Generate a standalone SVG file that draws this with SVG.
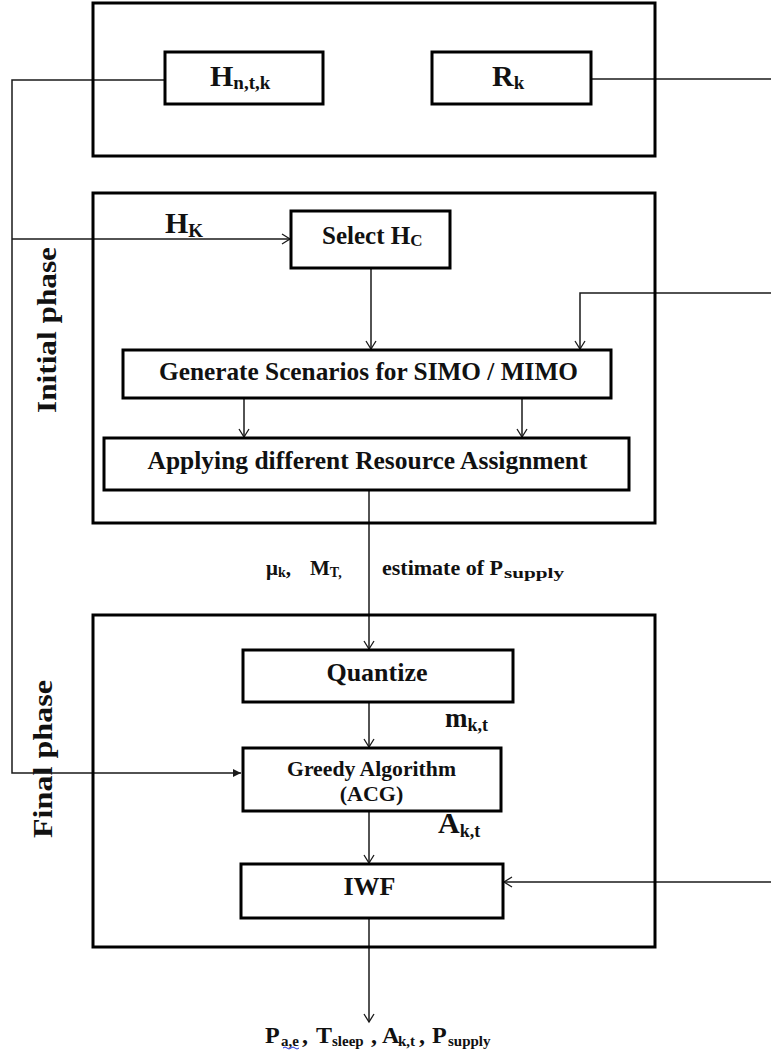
<svg xmlns="http://www.w3.org/2000/svg" width="771" height="1054" viewBox="0 0 771 1054">
<style>
.frame{fill:none;stroke:#000;stroke-width:3}
.box{fill:#fff;stroke:#000;stroke-width:3}
.ln{fill:none;stroke:#1a1a1a;stroke-width:1.5}
.t{font-family:"Liberation Serif","Times New Roman",serif;font-weight:bold;fill:#111}
</style>
<defs>
<marker id="open" markerUnits="userSpaceOnUse" markerWidth="12" markerHeight="12" refX="9" refY="6" orient="auto">
<path d="M1,1 L9,6 L1,11" fill="none" stroke="#1a1a1a" stroke-width="1.3"/>
</marker>
<marker id="solid" markerUnits="userSpaceOnUse" markerWidth="10" markerHeight="10" refX="8" refY="5" orient="auto">
<path d="M0,1 L8,5 L0,9 Z" fill="#1a1a1a"/>
</marker>
</defs>
<rect width="771" height="1054" fill="#fff"/>

<g id="phase-labels">
<text class="t" font-size="27" text-anchor="middle" textLength="166" lengthAdjust="spacingAndGlyphs" transform="translate(56,330) rotate(-90)">Initial phase</text>
<text class="t" font-size="27" text-anchor="middle" textLength="158" lengthAdjust="spacingAndGlyphs" transform="translate(52,759) rotate(-90)">Final phase</text>
</g>

<g id="connectors">
<polyline class="ln" points="165,80 12,80 12,773 241,773" marker-end="url(#solid)"/>
<line class="ln" x1="12" y1="239" x2="290" y2="239" marker-end="url(#open)"/>
<line class="ln" x1="591" y1="79" x2="771" y2="79"/>
<polyline class="ln" points="771,293 580,293 580,349" marker-end="url(#open)"/>
<line class="ln" x1="371" y1="268" x2="371" y2="349" marker-end="url(#open)"/>
<line class="ln" x1="244" y1="398" x2="244" y2="437" marker-end="url(#open)"/>
<line class="ln" x1="522" y1="398" x2="522" y2="437" marker-end="url(#open)"/>
<line class="ln" x1="369" y1="490" x2="369" y2="649" marker-end="url(#open)"/>
<line class="ln" x1="369" y1="702" x2="369" y2="747" marker-end="url(#open)"/>
<line class="ln" x1="369" y1="811" x2="369" y2="863" marker-end="url(#open)"/>
<line class="ln" x1="771" y1="882" x2="504" y2="882" marker-end="url(#open)"/>
<line class="ln" x1="369" y1="918" x2="369" y2="1022" marker-end="url(#open)"/>
</g>

<g id="input-frame">
<rect class="frame" x="93" y="3" width="562" height="153"/>
</g>
<g id="initial-frame">
<rect class="frame" x="93" y="193" width="562" height="330"/>
</g>
<g id="final-frame">
<rect class="frame" x="93" y="615" width="562" height="332"/>
</g>

<g id="node-H">
<rect class="box" x="165" y="52" width="158" height="52"/>
<text class="t" x="210" y="86" font-size="30">H<tspan font-size="19" dy="3">n,t,k</tspan></text>
</g>
<g id="node-R">
<rect class="box" x="432" y="52" width="159" height="52"/>
<text class="t" x="492" y="86" font-size="30">R<tspan font-size="19" dy="3">k</tspan></text>
</g>

<g id="label-HK">
<text class="t" x="165" y="233" font-size="30">H<tspan font-size="19" dy="4">K</tspan></text>
</g>

<g id="node-select">
<rect class="box" x="291" y="211" width="159" height="57"/>
<text class="t" x="322" y="244" font-size="25">Select H<tspan font-size="17" dy="2">C</tspan></text>
</g>

<g id="node-generate">
<rect class="box" x="123" y="350" width="488" height="48"/>
<text class="t" x="368.5" y="380" font-size="26" text-anchor="middle" textLength="419" lengthAdjust="spacingAndGlyphs">Generate Scenarios for SIMO / MIMO</text>
</g>

<g id="node-apply">
<rect class="box" x="104" y="438" width="525" height="52"/>
<text class="t" x="367.5" y="469" font-size="26" text-anchor="middle" textLength="440" lengthAdjust="spacingAndGlyphs">Applying different Resource Assignment</text>
</g>

<g id="label-mid">
<text class="t" font-size="21"><tspan x="266" y="575">μ</tspan><tspan font-size="14" y="577">k</tspan><tspan y="575">,</tspan><tspan x="310" y="575">M</tspan><tspan font-size="14" y="577">T,</tspan></text>
<text class="t" x="382" y="575" font-size="21" textLength="121" lengthAdjust="spacingAndGlyphs">estimate of P</text>
<text class="t" x="504" y="578" font-size="15" textLength="60" lengthAdjust="spacingAndGlyphs">supply</text>
</g>

<g id="node-quantize">
<rect class="box" x="243" y="650" width="270" height="52"/>
<text class="t" x="377" y="681" font-size="26" text-anchor="middle">Quantize</text>
</g>

<g id="label-m">
<text class="t" x="445" y="727" font-size="27">m<tspan font-size="18" dy="4">k,t</tspan></text>
</g>

<g id="node-greedy">
<rect class="box" x="243" y="748" width="258" height="63"/>
<text class="t" x="371.5" y="776" font-size="22" text-anchor="middle" textLength="169" lengthAdjust="spacingAndGlyphs">Greedy Algorithm</text>
<text class="t" x="371.5" y="801" font-size="22" text-anchor="middle">(ACG)</text>
</g>

<g id="label-A">
<text class="t" x="438" y="833" font-size="30">A<tspan font-size="18" dy="4">k,t</tspan></text>
</g>

<g id="node-iwf">
<rect class="box" x="241" y="864" width="262" height="54"/>
<text class="t" x="369.5" y="895" font-size="26" text-anchor="middle">IWF</text>
</g>

<g id="label-out">
<text class="t" font-size="24"><tspan x="265" y="1043">P</tspan><tspan x="281" y="1046" font-size="15">a,e</tspan><tspan x="302" y="1043">,</tspan><tspan x="316" y="1043">T</tspan><tspan x="332" y="1046" font-size="15">sleep</tspan><tspan x="371" y="1043">,</tspan><tspan x="382" y="1043">A</tspan><tspan x="398" y="1046" font-size="15">k,t</tspan><tspan x="419" y="1043">,</tspan><tspan x="432" y="1043">P</tspan><tspan x="448" y="1046" font-size="15">supply</tspan></text>
<path d="M283,1048 q2,-2 4,0 t4,0 t4,0 t4,0" fill="none" stroke="#2233dd" stroke-width="1"/>
</g>
</svg>
